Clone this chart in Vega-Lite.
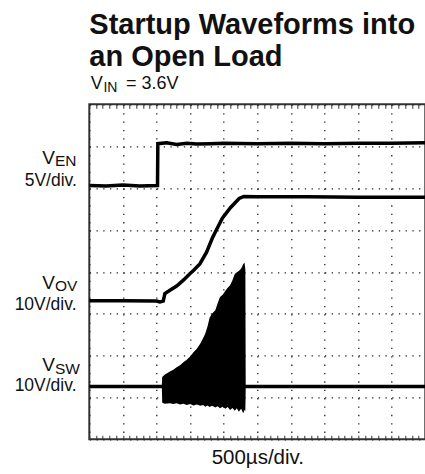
{
  "$schema": "https://vega.github.io/schema/vega-lite/v6.json",
  "width": 336,
  "height": 335,
  "autosize": "none",
  "padding": {"left": 89.3, "top": 104.3, "right": 0, "bottom": 35},
  "background": "white",
  "config": {
    "view": {"stroke": "#333333", "strokeWidth": 2},
    "font": "Liberation Sans",
    "text": {"font": "Liberation Sans", "color": "#111111", "baseline": "alphabetic"}
  },
  "title": {
    "text": ["Startup Waveforms into", "an Open Load"],
    "fontSize": 29,
    "font": "Liberation Sans",
    "fontWeight": "bold",
    "anchor": "start",
    "frame": "group",
    "lineHeight": 31.6,
    "color": "#111111",
    "offset": 3
  },
  "datasets": {
    "traces": [
      {"trace": "VEN", "t": 0, "v": 6.06},
      {"trace": "VEN", "t": 0.5, "v": 6.05},
      {"trace": "VEN", "t": 1.0, "v": 6.07},
      {"trace": "VEN", "t": 1.5, "v": 6.05},
      {"trace": "VEN", "t": 2.03, "v": 6.06},
      {"trace": "VEN", "t": 2.04, "v": 7.06},
      {"trace": "VEN", "t": 2.3, "v": 7.08},
      {"trace": "VEN", "t": 2.6, "v": 7.04},
      {"trace": "VEN", "t": 2.9, "v": 7.07},
      {"trace": "VEN", "t": 3.2, "v": 7.05},
      {"trace": "VEN", "t": 3.6, "v": 7.06},
      {"trace": "VEN", "t": 4.0, "v": 7.07},
      {"trace": "VEN", "t": 5.0, "v": 7.06},
      {"trace": "VEN", "t": 6.0, "v": 7.07},
      {"trace": "VEN", "t": 7.0, "v": 7.06},
      {"trace": "VEN", "t": 8.0, "v": 7.07},
      {"trace": "VEN", "t": 9.0, "v": 7.07},
      {"trace": "VEN", "t": 10.0, "v": 7.08},
      {"trace": "VOV", "t": 0, "v": 3.31},
      {"trace": "VOV", "t": 1.0, "v": 3.31},
      {"trace": "VOV", "t": 2.0, "v": 3.30},
      {"trace": "VOV", "t": 2.1, "v": 3.28},
      {"trace": "VOV", "t": 2.2, "v": 3.30},
      {"trace": "VOV", "t": 2.25, "v": 3.48},
      {"trace": "VOV", "t": 2.4, "v": 3.56},
      {"trace": "VOV", "t": 2.6, "v": 3.66},
      {"trace": "VOV", "t": 2.8, "v": 3.80},
      {"trace": "VOV", "t": 3.0, "v": 3.96},
      {"trace": "VOV", "t": 3.1, "v": 4.03},
      {"trace": "VOV", "t": 3.29, "v": 4.19},
      {"trace": "VOV", "t": 3.49, "v": 4.47},
      {"trace": "VOV", "t": 3.66, "v": 4.80},
      {"trace": "VOV", "t": 3.8, "v": 5.03},
      {"trace": "VOV", "t": 3.96, "v": 5.28},
      {"trace": "VOV", "t": 4.2, "v": 5.53},
      {"trace": "VOV", "t": 4.46, "v": 5.75},
      {"trace": "VOV", "t": 4.6, "v": 5.80},
      {"trace": "VOV", "t": 5.0, "v": 5.79},
      {"trace": "VOV", "t": 6.5, "v": 5.79},
      {"trace": "VOV", "t": 8.0, "v": 5.78},
      {"trace": "VOV", "t": 10.0, "v": 5.78}
    ],
    "sw": [
      {"t": 0, "v": 1.30, "lo": 1.22},
      {"t": 2.16, "v": 1.30, "lo": 1.22},
      {"t": 2.17, "v": 1.49, "lo": 0.87},
      {"t": 2.25, "v": 1.55, "lo": 0.85},
      {"t": 2.4, "v": 1.62, "lo": 0.86},
      {"t": 2.5, "v": 1.66, "lo": 0.84},
      {"t": 2.6, "v": 1.72, "lo": 0.86},
      {"t": 2.7, "v": 1.77, "lo": 0.83},
      {"t": 2.8, "v": 1.84, "lo": 0.85},
      {"t": 2.9, "v": 1.90, "lo": 0.82},
      {"t": 3.0, "v": 1.98, "lo": 0.84},
      {"t": 3.1, "v": 2.08, "lo": 0.81},
      {"t": 3.2, "v": 2.16, "lo": 0.83},
      {"t": 3.3, "v": 2.28, "lo": 0.80},
      {"t": 3.39, "v": 2.42, "lo": 0.82},
      {"t": 3.45, "v": 2.52, "lo": 0.78},
      {"t": 3.52, "v": 2.70, "lo": 0.81},
      {"t": 3.58, "v": 2.90, "lo": 0.77},
      {"t": 3.65, "v": 3.00, "lo": 0.80},
      {"t": 3.75, "v": 3.08, "lo": 0.76},
      {"t": 3.82, "v": 3.25, "lo": 0.79},
      {"t": 3.89, "v": 3.40, "lo": 0.74},
      {"t": 3.97, "v": 3.45, "lo": 0.78},
      {"t": 4.05, "v": 3.55, "lo": 0.73},
      {"t": 4.12, "v": 3.62, "lo": 0.77},
      {"t": 4.19, "v": 3.68, "lo": 0.70},
      {"t": 4.26, "v": 3.80, "lo": 0.75},
      {"t": 4.33, "v": 3.95, "lo": 0.68},
      {"t": 4.39, "v": 3.99, "lo": 0.74},
      {"t": 4.45, "v": 4.02, "lo": 0.66},
      {"t": 4.52, "v": 4.08, "lo": 0.73},
      {"t": 4.58, "v": 4.18, "lo": 0.62},
      {"t": 4.62, "v": 4.22, "lo": 0.70},
      {"t": 4.645, "v": 4.05, "lo": 0.68},
      {"t": 4.655, "v": 1.30, "lo": 1.22},
      {"t": 10, "v": 1.30, "lo": 1.22}
    ],
    "labels": [
      {"role": "V", "text": "V", "t": -1.02, "v": 6.58},
      {"role": "V", "text": "V", "t": -1.02, "v": 3.60},
      {"role": "V", "text": "V", "t": -1.02, "v": 1.64},
      {"role": "sub", "text": "EN", "t": -1.02, "v": 6.52},
      {"role": "sub", "text": "OV", "t": -1.02, "v": 3.54},
      {"role": "sub", "text": "SW", "t": -1.02, "v": 1.57},
      {"role": "scale", "text": "5V/div.", "t": -0.37, "v": 6.06},
      {"role": "scale", "text": "10V/div.", "t": -0.38, "v": 3.09},
      {"role": "scale", "text": "10V/div.", "t": -0.38, "v": 1.15},
      {"role": "cond", "text": "V", "t": 0.04, "v": 8.37},
      {"role": "cond", "text": "= 3.6V", "t": 1.09, "v": 8.37},
      {"role": "condsub", "text": "IN", "t": 0.42, "v": 8.30}
    ]
  },
  "resolve": {"axis": {"x": "independent"}},
  "layer": [
    {
      "data": {"name": "traces"},
      "mark": {"type": "line", "color": "#000000", "strokeWidth": 3.5},
      "encoding": {
        "x": {
          "field": "t", "type": "quantitative",
          "scale": {"domain": [0, 10], "nice": false, "zero": false},
          "axis": {
            "orient": "bottom",
            "values": [0,0.2,0.4,0.6,0.8,1,1.2,1.4,1.6,1.8,2,2.2,2.4,2.6,2.8,3,3.2,3.4,3.6,3.8,4,4.2,4.4,4.6,4.8,5,5.2,5.4,5.6,5.8,6,6.2,6.4,6.6,6.8,7,7.2,7.4,7.6,7.8,8,8.2,8.4,8.6,8.8,9,9.2,9.4,9.6,9.8,10],
            "grid": true,
            "gridColor": "#222222",
            "gridWidth": 1.3,
            "gridDash": [1.3, 7.08],
            "gridOpacity": {"condition": {"test": "abs(datum.value - round(datum.value)) < 0.01", "value": 1}, "value": 0},
            "domain": false,
            "labels": false,
            "ticks": true,
            "tickSize": -4,
            "tickColor": "#333333",
            "tickWidth": 1,
            "title": "500µs/div.",
            "titleFont": "Liberation Sans",
            "titleFontSize": 20.5,
            "titleFontWeight": "normal",
            "titleColor": "#111111",
            "titlePadding": 8
          }
        },
        "y": {
          "field": "v", "type": "quantitative",
          "scale": {"domain": [0, 8], "nice": false, "zero": false},
          "axis": {
            "values": [0,1,2,3,4,5,6,7,8],
            "grid": true,
            "gridColor": "#222222",
            "gridWidth": 1.3,
            "gridDash": [1.3, 5.42],
            "domain": false,
            "labels": false,
            "ticks": false,
            "title": null
          }
        },
        "detail": {"field": "trace"}
      }
    },
    {
      "data": {"name": "sw"},
      "mark": {"type": "area", "color": "#000000", "interpolate": "linear"},
      "encoding": {
        "x": {
          "field": "t", "type": "quantitative",
          "axis": {
            "orient": "top",
            "values": [0,0.2,0.4,0.6,0.8,1,1.2,1.4,1.6,1.8,2,2.2,2.4,2.6,2.8,3,3.2,3.4,3.6,3.8,4,4.2,4.4,4.6,4.8,5,5.2,5.4,5.6,5.8,6,6.2,6.4,6.6,6.8,7,7.2,7.4,7.6,7.8,8,8.2,8.4,8.6,8.8,9,9.2,9.4,9.6,9.8,10],
            "grid": false,
            "domain": false,
            "labels": false,
            "ticks": true,
            "tickSize": -4,
            "tickColor": "#333333",
            "tickWidth": 1,
            "title": null
          }
        },
        "y": {"field": "v", "type": "quantitative"},
        "y2": {"field": "lo"}
      }
    },
    {
      "data": {"name": "labels"},
      "transform": [{"filter": "datum.role === 'V'"}],
      "mark": {"type": "text", "align": "right", "fontSize": 19},
      "encoding": {
        "x": {"field": "t", "type": "quantitative", "axis": null},
        "y": {"field": "v", "type": "quantitative"},
        "text": {"field": "text"}
      }
    },
    {
      "data": {"name": "labels"},
      "transform": [{"filter": "datum.role === 'sub'"}],
      "mark": {"type": "text", "align": "left", "fontSize": 15.5},
      "encoding": {
        "x": {"field": "t", "type": "quantitative", "axis": null},
        "y": {"field": "v", "type": "quantitative"},
        "text": {"field": "text"}
      }
    },
    {
      "data": {"name": "labels"},
      "transform": [{"filter": "datum.role === 'scale'"}],
      "mark": {"type": "text", "align": "right", "fontSize": 17.5},
      "encoding": {
        "x": {"field": "t", "type": "quantitative", "axis": null},
        "y": {"field": "v", "type": "quantitative"},
        "text": {"field": "text"}
      }
    },
    {
      "data": {"name": "labels"},
      "transform": [{"filter": "datum.role === 'cond'"}],
      "mark": {"type": "text", "align": "left", "fontSize": 18},
      "encoding": {
        "x": {"field": "t", "type": "quantitative", "axis": null},
        "y": {"field": "v", "type": "quantitative"},
        "text": {"field": "text"}
      }
    },
    {
      "data": {"name": "labels"},
      "transform": [{"filter": "datum.role === 'condsub'"}],
      "mark": {"type": "text", "align": "left", "fontSize": 14},
      "encoding": {
        "x": {"field": "t", "type": "quantitative", "axis": null},
        "y": {"field": "v", "type": "quantitative"},
        "text": {"field": "text"}
      }
    }
  ]
}
